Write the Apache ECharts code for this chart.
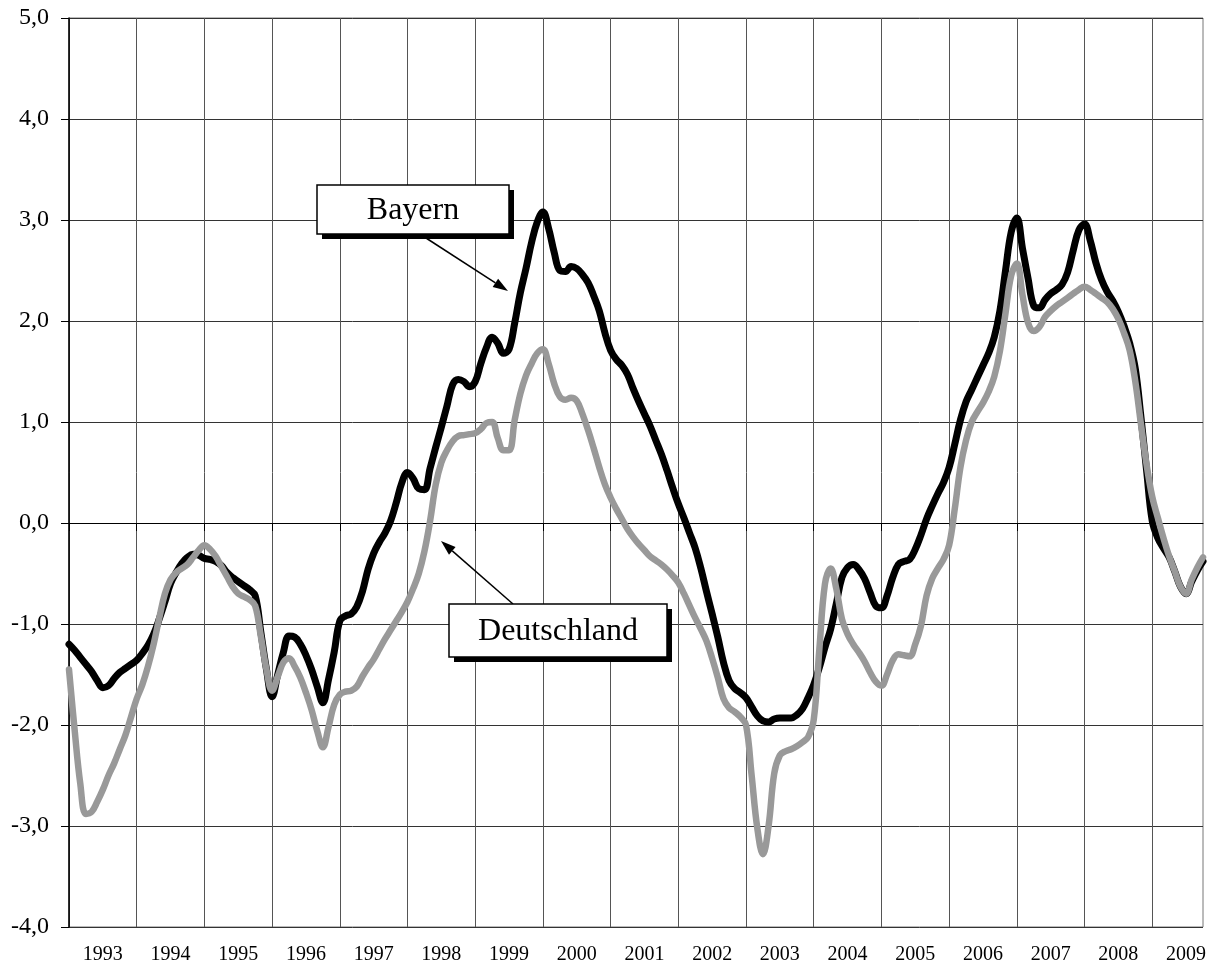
<!DOCTYPE html>
<html>
<head>
<meta charset="utf-8">
<script src="https://cdn.jsdelivr.net/npm/echarts@6/dist/echarts.min.js"></script>
<style>
  html, body { margin: 0; padding: 0; background: #fff; }
  #chart { width: 1213px; height: 970px; }
</style>
</head>
<body>
<div id="chart"></div>
<script>
// Jahre der x-Achse (Monatswerte Jan 1993 - Okt 2009)
const yearLabels = ['1993','1994','1995','1996','1997','1998','1999','2000','2001',
                    '2002','2003','2004','2005','2006','2007','2008','2009'];
const yTicks = [-4, -3, -2, -1, 0, 1, 2, 3, 4, 5];

// Bayern, Monatswerte
const bayern = [
  -1.20,-1.26,-1.33,-1.40,-1.47,-1.56,-1.63,-1.61,-1.54,-1.48,-1.44,-1.40,
  -1.36,-1.29,-1.21,-1.10,-0.95,-0.78,-0.60,-0.49,-0.40,-0.34,-0.31,-0.32,
  -0.35,-0.36,-0.38,-0.42,-0.49,-0.54,-0.58,-0.62,-0.66,-0.72,-1.08,-1.45,
  -1.72,-1.50,-1.28,-1.12,-1.13,-1.20,-1.31,-1.45,-1.62,-1.78,-1.55,-1.28,
  -0.97,-0.92,-0.90,-0.83,-0.68,-0.46,-0.30,-0.19,-0.10,0.02,0.20,0.40,
  0.50,0.44,0.34,0.33,0.54,0.75,0.95,1.16,1.37,1.42,1.40,1.35,
  1.40,1.58,1.74,1.84,1.78,1.68,1.72,1.98,2.28,2.52,2.78,2.98,
  3.08,2.92,2.68,2.50,2.49,2.54,2.52,2.46,2.38,2.25,2.10,1.88,
  1.71,1.62,1.56,1.47,1.33,1.20,1.08,0.96,0.82,0.68,0.52,0.35,
  0.19,0.05,-0.10,-0.25,-0.45,-0.68,-0.90,-1.13,-1.38,-1.56,-1.64,-1.68,
  -1.73,-1.82,-1.91,-1.96,-1.97,-1.94,-1.93,-1.93,-1.93,-1.90,-1.84,-1.73,
  -1.60,-1.43,-1.23,-1.05,-0.80,-0.54,-0.44,-0.41,-0.46,-0.55,-0.69,-0.82,
  -0.84,-0.72,-0.54,-0.41,-0.38,-0.36,-0.26,-0.12,0.04,0.17,0.29,0.40,
  0.55,0.78,1.02,1.20,1.32,1.44,1.56,1.68,1.84,2.10,2.50,2.88,
  3.02,2.72,2.42,2.15,2.13,2.21,2.27,2.31,2.36,2.48,2.70,2.90,
  2.96,2.80,2.58,2.41,2.29,2.20,2.09,1.95,1.78,1.53,1.05,0.52,
  0.02,-0.15,-0.25,-0.34,-0.48,-0.63,-0.70,-0.58,-0.47,-0.38
];

// Deutschland, Monatswerte
const deutschland = [
  -1.45,-2.05,-2.58,-2.88,-2.86,-2.76,-2.64,-2.50,-2.38,-2.24,-2.10,-1.92,
  -1.74,-1.60,-1.42,-1.20,-0.94,-0.70,-0.56,-0.49,-0.45,-0.41,-0.34,-0.27,
  -0.22,-0.26,-0.33,-0.43,-0.53,-0.63,-0.70,-0.73,-0.76,-0.82,-1.12,-1.45,
  -1.66,-1.52,-1.38,-1.34,-1.42,-1.53,-1.68,-1.85,-2.06,-2.22,-2.02,-1.80,
  -1.70,-1.67,-1.66,-1.62,-1.52,-1.43,-1.35,-1.25,-1.15,-1.06,-0.97,-0.88,
  -0.78,-0.65,-0.50,-0.28,0.02,0.38,0.60,0.72,0.81,0.86,0.87,0.88,
  0.89,0.93,0.99,1.00,0.84,0.72,0.72,1.02,1.28,1.46,1.58,1.68,
  1.72,1.58,1.38,1.25,1.22,1.24,1.21,1.08,0.92,0.74,0.55,0.38,
  0.25,0.14,0.04,-0.06,-0.14,-0.21,-0.27,-0.33,-0.37,-0.41,-0.46,-0.52,
  -0.59,-0.70,-0.82,-0.94,-1.05,-1.17,-1.34,-1.53,-1.74,-1.83,-1.87,-1.92,
  -2.00,-2.50,-3.02,-3.28,-3.00,-2.48,-2.30,-2.26,-2.24,-2.21,-2.17,-2.12,
  -1.95,-1.25,-0.60,-0.45,-0.65,-0.95,-1.10,-1.20,-1.28,-1.37,-1.48,-1.57,
  -1.61,-1.50,-1.36,-1.30,-1.31,-1.32,-1.20,-1.02,-0.72,-0.55,-0.45,-0.36,
  -0.22,0.14,0.55,0.82,1.00,1.10,1.19,1.30,1.45,1.70,2.08,2.45,
  2.57,2.26,1.98,1.90,1.94,2.04,2.10,2.15,2.19,2.23,2.27,2.31,
  2.34,2.31,2.27,2.23,2.19,2.12,2.02,1.88,1.71,1.40,0.98,0.58,
  0.26,0.05,-0.15,-0.33,-0.48,-0.63,-0.70,-0.56,-0.44,-0.34
];

// Monatskategorien aus den Jahren
const months = [];
yearLabels.forEach(function (y) {
  for (let m = 1; m <= 12; m++) {
    if (months.length < bayern.length) months.push(y + '-' + (m < 10 ? '0' + m : m));
  }
});

const serif = '"Liberation Serif", "Times New Roman", serif';

// Pfeil: Linie + gefuellte Spitze
function arrow(x1, y1, x2, y2) {
  const dx = x2 - x1, dy = y2 - y1;
  const len = Math.sqrt(dx * dx + dy * dy);
  const ux = dx / len, uy = dy / len;
  const bx = x2 - ux * 15, by = y2 - uy * 15;
  return [
    { type: 'line', shape: { x1: x1, y1: y1, x2: bx, y2: by },
      style: { stroke: '#000', lineWidth: 1.5 }, z: 100 },
    { type: 'polygon', shape: { points: [[x2, y2], [bx - uy * 5, by + ux * 5], [bx + uy * 5, by - ux * 5]] },
      style: { fill: '#000' }, z: 100 }
  ];
}

function labelBox(x, y, w, h, text) {
  return [
    { type: 'rect', shape: { x: x + 5, y: y + 5, width: w, height: h }, style: { fill: '#000' }, z: 100 },
    { type: 'rect', shape: { x: x, y: y, width: w, height: h },
      style: { fill: '#fff', stroke: '#000', lineWidth: 1.5 }, z: 101 },
    { type: 'text', x: x + w / 2, y: y + h / 2 + 1, z: 102,
      style: { text: text, fill: '#000', font: '32px ' + serif, align: 'center', verticalAlign: 'middle' } }
  ];
}

let myChart = echarts.init(document.getElementById('chart'));
let option = {
  animation: false,
  backgroundColor: '#fff',
  grid: {
    left: 69, right: 10, top: 18, bottom: 43,
    show: true, borderColor: '#777', borderWidth: 1
  },
  xAxis: {
    type: 'category',
    data: months,
    boundaryGap: false,
    axisLine: { lineStyle: { color: '#000', width: 1 } },
    axisTick: { show: true, length: 8, interval: function (i) { return i % 12 === 0; },
                lineStyle: { color: '#000' } },
    axisLabel: {
      interval: function (i) { return i % 12 === 6; },
      formatter: function (v) { return v.slice(0, 4); },
      color: '#000', fontSize: 20, fontFamily: serif, margin: 18
    },
    splitLine: { show: true, interval: function (i) { return i % 12 === 0; },
                 lineStyle: { color: '#555', width: 1 } }
  },
  yAxis: {
    type: 'value',
    min: yTicks[0], max: yTicks[yTicks.length - 1], interval: 1,
    axisLine: { show: true, lineStyle: { color: '#000', width: 1.5 } },
    axisTick: { show: true, length: 8, lineStyle: { color: '#000' } },
    axisLabel: {
      formatter: function (v) { return v.toFixed(1).replace('.', ','); },
      color: '#000', fontSize: 24, fontFamily: serif, margin: 20
    },
    splitLine: { lineStyle: { color: '#333', width: 1 } }
  },
  series: [
    {
      name: 'Bayern', type: 'line', data: bayern, smooth: 0.4, showSymbol: false,
      lineStyle: { color: '#000', width: 7, cap: 'round', join: 'round' }, z: 3
    },
    {
      name: 'Deutschland', type: 'line', data: deutschland, smooth: 0.4, showSymbol: false,
      lineStyle: { color: '#999', width: 6.5, cap: 'round', join: 'round' }, z: 4
    }
  ],
  graphic: [].concat(
    labelBox(317, 185, 192, 49, 'Bayern'),
    arrow(426, 238, 508, 291),
    labelBox(449, 604, 218, 53, 'Deutschland'),
    arrow(513, 604, 441, 541)
  )
};
myChart.setOption(option);
window.addEventListener('resize', function () { myChart.resize(); });
</script>
</body>
</html>
